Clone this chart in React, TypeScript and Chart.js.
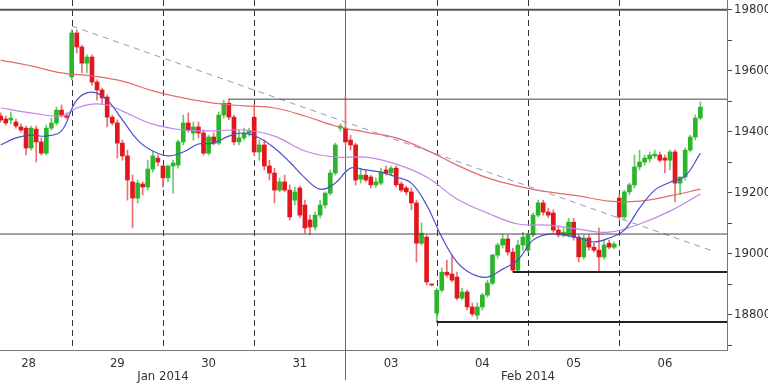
import React, { useEffect, useRef } from "react";
import { Chart, registerables } from "chart.js";
Chart.register(...registerables);

// ---- axis labels ----
const dayLabels = ["28", "29", "30", "31", "03", "04", "05", "06"];
const dayLabelIdx = [5.5, 23, 41, 59, 77, 95, 113, 131];
const monthLabels = ["Jan 2014", "Feb 2014"];
const monthLabelIdx = [32, 104];
const yLabelTicks = [18800, 19000, 19200, 19400, 19600, 19800];
const yMinorTicks = [18700, 18900, 19100, 19300, 19500, 19700];
const daySeparatorIdx = [14, 32, 50, 86, 104, 122];
const monthSeparatorIdx = 68;

// ---- candles (index 0 = first visible bar) ----
const opens = [
  19452, 19442, 19439, 19432, 19416, 19412, 19347, 19409, 19367, 19330, 19412, 19429, 19471, 19452,
  19580, 19724, 19678, 19625, 19645, 19563, 19537, 19514, 19448, 19429, 19363, 19321, 19236, 19183, 19229, 19219, 19278, 19314,
  19288, 19249, 19288, 19291, 19367, 19429, 19396, 19416, 19396, 19330, 19383, 19363, 19455, 19494, 19448, 19367, 19380, 19396,
  19448, 19334, 19357, 19288, 19265, 19209, 19236, 19209, 19176, 19216, 19160, 19111, 19088, 19127, 19160, 19199, 19265, 19412,
  19412, 19373, 19357, 19245, 19258, 19252, 19226, 19232, 19275, 19265, 19281, 19229, 19216, 19203, 19167, 19035, 19055, 18898,
  18806, 18881, 18940, 18934, 18924, 18855, 18875, 18826, 18799, 18826, 18865, 18904, 18996, 19029, 19049, 19006, 18947, 19029,
  19012, 19062, 19127, 19167, 19137, 19134, 19078, 19062, 19062, 19104, 19055, 18990, 19052, 19022, 19012, 18990, 19035, 19022,
  19183, 19121, 19203, 19226, 19285, 19301, 19311, 19321, 19324, 19314, 19307, 19334, 19232, 19252, 19340, 19383, 19445,
];
const highs = [
  19462, 19452, 19465, 19442, 19426, 19419, 19419, 19419, 19380, 19422, 19445, 19481, 19488, 19462,
  19734, 19734, 19684, 19652, 19652, 19570, 19543, 19521, 19455, 19439, 19373, 19340, 19258, 19242, 19236, 19307, 19334, 19324,
  19291, 19291, 19307, 19373, 19455, 19462, 19432, 19432, 19406, 19389, 19396, 19465, 19504, 19507, 19455, 19406, 19412, 19412,
  19488, 19373, 19373, 19307, 19281, 19249, 19258, 19226, 19219, 19222, 19176, 19127, 19137, 19176, 19203, 19275, 19363, 19426,
  19514, 19389, 19363, 19281, 19275, 19258, 19249, 19281, 19288, 19288, 19288, 19236, 19222, 19216, 19176, 19101, 19062, 18901,
  18888, 18954, 18980, 18996, 18940, 18888, 18881, 18839, 18839, 18871, 18914, 18999, 19035, 19065, 19062, 19019, 19045, 19071,
  19068, 19134, 19176, 19176, 19150, 19144, 19091, 19085, 19117, 19117, 19062, 19062, 19062, 19035, 19085, 19045, 19045, 19039,
  19193, 19209, 19232, 19324, 19340, 19324, 19334, 19340, 19334, 19324, 19340, 19340, 19252, 19347, 19389, 19455, 19498,
];
const lows = [
  19432, 19422, 19426, 19412, 19399, 19324, 19340, 19301, 19324, 19324, 19406, 19422, 19448, 19442,
  19570, 19658, 19593, 19593, 19553, 19504, 19494, 19416, 19422, 19314, 19307, 19176, 19085, 19167, 19193, 19209, 19268, 19288,
  19219, 19236, 19199, 19281, 19357, 19399, 19373, 19380, 19324, 19324, 19357, 19357, 19445, 19439, 19357, 19357, 19373, 19386,
  19324, 19307, 19275, 19242, 19167, 19203, 19203, 19111, 19160, 19118, 19068, 19062, 19078, 19118, 19150, 19193, 19258, 19403,
  19357, 19340, 19226, 19232, 19236, 19216, 19219, 19226, 19258, 19258, 19219, 19203, 19193, 19144, 18973, 19029, 18898, 18895,
  18777, 18875, 18924, 18908, 18849, 18849, 18816, 18796, 18786, 18816, 18858, 18898, 18986, 19019, 18996, 18941, 18941, 19012,
  19006, 19055, 19121, 19127, 19118, 19071, 19055, 19055, 19055, 19045, 18973, 18983, 19012, 19006, 18941, 18983, 19016, 19016,
  19114, 19111, 19193, 19216, 19275, 19291, 19301, 19314, 19301, 19265, 19275, 19170, 19193, 19242, 19334, 19373, 19439,
];
const closes = [
  19439, 19429, 19445, 19419, 19406, 19347, 19412, 19367, 19330, 19412, 19429, 19471, 19455, 19448,
  19724, 19678, 19625, 19645, 19563, 19537, 19511, 19448, 19429, 19363, 19321, 19242, 19183, 19232, 19219, 19278, 19321, 19301,
  19249, 19288, 19298, 19367, 19429, 19406, 19416, 19396, 19330, 19383, 19363, 19455, 19494, 19448, 19367, 19380, 19396, 19403,
  19334, 19357, 19288, 19265, 19209, 19236, 19209, 19121, 19203, 19127, 19085, 19088, 19127, 19160, 19199, 19265, 19357, 19419,
  19367, 19357, 19242, 19258, 19242, 19226, 19236, 19268, 19265, 19281, 19226, 19209, 19203, 19167, 19035, 19068, 18908, 18898,
  18881, 18940, 18931, 18914, 18855, 18875, 18826, 18803, 18826, 18865, 18904, 18996, 19029, 19049, 19006, 18947, 19029, 19055,
  19062, 19127, 19167, 19137, 19127, 19078, 19062, 19071, 19104, 19055, 18990, 19052, 19022, 19012, 18990, 19029, 19022, 19032,
  19121, 19203, 19226, 19285, 19301, 19314, 19324, 19327, 19307, 19307, 19334, 19232, 19252, 19340, 19383, 19445, 19481,
];

// ---- moving averages, read at sample bars ----
const maFastIdx = [0, 3, 6, 9, 12, 15, 18, 21, 24, 27, 30, 33, 36, 39, 42, 45, 48, 51, 54, 57, 60, 63, 66, 69, 72, 75, 78, 81, 84, 87, 90, 93, 96, 99, 102, 105, 108, 111, 114, 117, 120, 123, 126, 129, 132, 135, 138];
const maFastVal = [19357, 19380, 19389, 19386, 19403, 19504, 19530, 19504, 19439, 19373, 19337, 19321, 19334, 19360, 19363, 19386, 19396, 19380, 19347, 19301, 19249, 19212, 19232, 19281, 19275, 19268, 19252, 19232, 19160, 19055, 18973, 18934, 18924, 18950, 18980, 19045, 19065, 19062, 19052, 19039, 19052, 19078, 19150, 19209, 19235, 19255, 19330];
const maMidIdx = [0, 6, 12, 15, 18, 21, 24, 30, 36, 42, 48, 54, 60, 66, 72, 78, 84, 90, 96, 102, 108, 114, 120, 126, 132, 138];
const maMidVal = [19478, 19462, 19452, 19478, 19491, 19488, 19468, 19425, 19406, 19403, 19406, 19386, 19337, 19317, 19317, 19294, 19252, 19180, 19134, 19098, 19094, 19081, 19071, 19098, 19140, 19196];
const maSlowIdx = [0, 6, 12, 18, 24, 30, 36, 42, 48, 54, 60, 66, 72, 78, 84, 90, 96, 102, 108, 114, 120, 126, 132, 138];
const maSlowVal = [19635, 19616, 19593, 19583, 19566, 19534, 19511, 19494, 19485, 19478, 19452, 19419, 19399, 19380, 19340, 19291, 19249, 19222, 19203, 19190, 19173, 19173, 19190, 19212];

// ---- drawn analysis lines ----
const trendIdx = [14, 140];
const trendVal = [19747, 19012];
const levelVal = [19800, 19507, 19065, 18941, 18777];
const levelStartIdx = [-0.14, 45, -0.14, 101, 86];

const X_MIN = -0.14;
const X_MAX = 143.25;
const Y_MIN = 18685;
const Y_MAX = 19832;

const FONT = "'Liberation Sans Narrow', 'DejaVu Sans Condensed', 'Arial Narrow', sans-serif";

export default function App() {
  const ref = useRef<HTMLCanvasElement | null>(null);

  useEffect(() => {
    const canvas = ref.current;
    if (!canvas) return;
    const up = closes.map((c, i) => c > opens[i]);
    const bodyCol = up.map((u) => (u ? "#2bb52b" : "#e3161d"));
    const wickCol = up.map((u) => (u ? "#6acb6a" : "#ee6d70"));

    const levelStyles = [
      { w: 2, c: "#555" },
      { w: 1, c: "#444" },
      { w: 1, c: "#444" },
      { w: 2, c: "#222" },
      { w: 2, c: "#222" },
    ];

    const overlay = {
      id: "overlay",
      beforeDatasetsDraw(chart: any) {
        const { ctx, chartArea, scales } = chart;
        const xs = scales.x;
        ctx.save();
        ctx.lineWidth = 1;
        ctx.strokeStyle = "#333";
        ctx.setLineDash([6, 4]);
        daySeparatorIdx.forEach((i) => {
          const px = Math.round(xs.getPixelForValue(i)) + 0.5;
          ctx.beginPath();
          ctx.moveTo(px, chartArea.top);
          ctx.lineTo(px, chartArea.bottom);
          ctx.stroke();
        });
        ctx.setLineDash([]);
        ctx.strokeStyle = "#666";
        const pm = Math.round(xs.getPixelForValue(monthSeparatorIdx)) + 0.5;
        ctx.beginPath();
        ctx.moveTo(pm, chartArea.top);
        ctx.lineTo(pm, chartArea.bottom + 30);
        ctx.stroke();
        ctx.restore();
      },
    };

    const lineDs = (idx: number[], val: number[], color: string, order: number) => ({
      type: "line",
      data: idx.map((x, k) => ({ x, y: val[k] })),
      borderColor: color,
      borderWidth: 1.2,
      pointRadius: 0,
      tension: 0.4,
      order,
    });

    const chart = new Chart(canvas, {
      type: "bar",
      data: {
        datasets: [
          {
            type: "bar",
            data: lows.map((l, i) => ({ x: i, y: [l, highs[i]] })),
            backgroundColor: wickCol,
            barThickness: 1,
            grouped: false,
            order: 9,
          } as any,
          {
            type: "bar",
            data: opens.map((o, i) => ({ x: i, y: [o, closes[i]] })),
            backgroundColor: bodyCol,
            barThickness: 4,
            minBarLength: 1,
            grouped: false,
            order: 8,
          } as any,
          lineDs(maSlowIdx, maSlowVal, "#e66a6a", 7),
          lineDs(maMidIdx, maMidVal, "#c486e6", 6),
          lineDs(maFastIdx, maFastVal, "#4a4fd0", 5),
          {
            ...lineDs(trendIdx, trendVal, "#8f97c6", 4),
            borderWidth: 1,
            tension: 0,
            borderDash: [6, 5],
          },
          ...levelVal.map((v, k) => ({
            type: "line",
            data: [
              { x: levelStartIdx[k], y: v },
              { x: X_MAX, y: v },
            ],
            borderColor: levelStyles[k].c,
            borderWidth: levelStyles[k].w,
            pointRadius: 0,
            tension: 0,
            order: 1,
          })),
        ] as any,
      },
      options: {
        animation: false,
        responsive: false,
        devicePixelRatio: 1,
        layout: { padding: 0 },
        plugins: { legend: { display: false }, tooltip: { enabled: false } },
        scales: {
          x: {
            type: "linear",
            min: X_MIN,
            max: X_MAX,
            offset: false,
            position: "bottom",
            grid: { display: false },
            border: { display: true, color: "#777" },
            afterBuildTicks: (s: any) => {
              s.ticks = dayLabelIdx.map((v) => ({ value: v }));
            },
            afterFit: (s: any) => {
              s.height = 19;
              s.paddingLeft = 0;
              s.paddingRight = 0;
            },
            ticks: {
              autoSkip: false,
              maxRotation: 0,
              padding: -2,
              color: "#333",
              font: { family: FONT, size: 13 },
              callback: (_v: any, i: number) => dayLabels[i],
            },
          },
          x2: {
            type: "linear",
            min: X_MIN,
            max: X_MAX,
            offset: false,
            position: "bottom",
            grid: { display: false, drawTicks: false },
            border: { display: false },
            afterBuildTicks: (s: any) => {
              s.ticks = monthLabelIdx.map((v) => ({ value: v }));
            },
            afterFit: (s: any) => {
              s.height = 15;
              s.paddingLeft = 0;
              s.paddingRight = 0;
            },
            ticks: {
              autoSkip: false,
              maxRotation: 0,
              padding: 0,
              color: "#333",
              font: { family: FONT, size: 13 },
              callback: (_v: any, i: number) => monthLabels[i],
            },
          },
          y: {
            type: "linear",
            position: "right",
            min: Y_MIN,
            max: Y_MAX,
            grid: { display: true, drawOnChartArea: false, drawTicks: true, tickLength: 5, color: "#444" },
            border: { display: true, color: "#777" },
            afterBuildTicks: (s: any) => {
              s.ticks = [...yLabelTicks, ...yMinorTicks].sort((a, b) => a - b).map((v) => ({ value: v }));
            },
            afterFit: (s: any) => {
              s.width = 41;
              s.paddingTop = 0;
              s.paddingBottom = 0;
            },
            ticks: {
              autoSkip: false,
              padding: 2,
              color: "#333",
              font: { family: FONT, size: 13 },
              callback: (v: any) => (yLabelTicks.includes(v) ? String(v) : ""),
            },
          },
        },
      } as any,
      plugins: [overlay],
    });
    return () => chart.destroy();
  }, []);

  return (
    <div style={{ position: "absolute", left: 0, top: 0, width: 768, height: 384, background: "#fff" }}>
      <canvas ref={ref} width={768} height={384} style={{ display: "block" }} />
    </div>
  );
}
